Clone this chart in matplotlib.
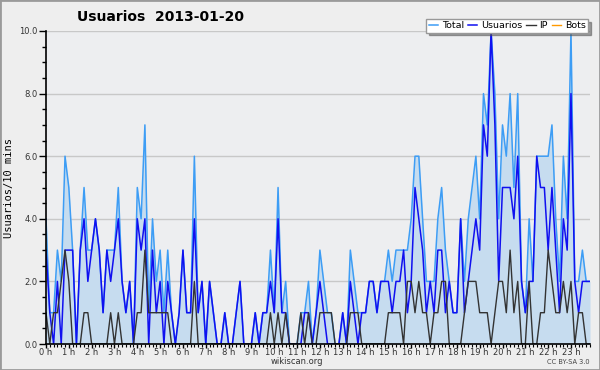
import matplotlib
matplotlib.use('Agg')
import matplotlib.pyplot as plt
from matplotlib.patches import Rectangle
from matplotlib.ticker import MultipleLocator, FormatStrFormatter
import numpy as np

# one value every 10 minutes, 0:00 .. 23:50
usuarios = [3, 1, 0, 2, 0, 3, 3, 3, 0, 3, 4, 2, 3, 4, 3, 1, 3, 2, 3, 4, 2, 1, 2, 0,
            4, 3, 4, 0, 3, 1, 2, 0, 2, 1, 0, 1, 3, 1, 1, 4, 1, 2, 0, 2, 1, 0, 0, 1,
            0, 0, 1, 2, 0, 0, 0, 1, 0, 1, 1, 2, 1, 4, 1, 1, 0, 0, 0, 0, 1, 1, 0, 1,
            2, 1, 0, 0, 0, 0, 1, 0, 2, 1, 0, 1, 1, 2, 2, 1, 2, 2, 2, 1, 2, 2, 3, 1,
            2, 5, 4, 3, 1, 2, 1, 3, 3, 1, 2, 1, 1, 4, 1, 2, 3, 4, 3, 7, 6, 10, 7, 2,
            5, 5, 5, 4, 6, 2, 1, 2, 2, 6, 5, 5, 3, 5, 3, 1, 4, 3, 8, 2, 1, 2, 2, 2]
ip = [1, 0, 1, 1, 2, 3, 2, 0, 0, 0, 1, 1, 0, 0, 0, 0, 0, 1, 0, 1, 0, 0, 0, 0,
      1, 1, 3, 1, 1, 1, 1, 1, 1, 0, 0, 0, 0, 0, 0, 2, 0, 0, 0, 0, 0, 0, 0, 0,
      0, 0, 0, 0, 0, 0, 0, 0, 0, 0, 0, 1, 0, 1, 0, 1, 0, 0, 0, 1, 0, 1, 0, 0,
      1, 1, 1, 1, 0, 0, 0, 0, 1, 1, 1, 0, 0, 0, 0, 0, 0, 0, 1, 1, 1, 1, 0, 2,
      2, 1, 2, 1, 1, 0, 1, 1, 2, 2, 0, 0, 0, 0, 1, 2, 2, 2, 1, 1, 1, 0, 1, 2,
      2, 1, 3, 1, 2, 0, 0, 2, 0, 0, 1, 1, 3, 2, 1, 1, 2, 1, 2, 0, 1, 1, 0, 0]
total = [4, 1, 1, 3, 2, 6, 5, 3, 0, 3, 5, 3, 3, 4, 3, 1, 3, 3, 3, 5, 2, 1, 2, 0,
         5, 4, 7, 1, 4, 2, 3, 1, 3, 1, 0, 1, 3, 1, 1, 6, 1, 2, 0, 2, 1, 0, 0, 1,
         0, 0, 1, 2, 0, 0, 0, 1, 0, 1, 1, 3, 1, 5, 1, 2, 0, 0, 0, 1, 1, 2, 0, 1,
         3, 2, 1, 1, 0, 0, 1, 0, 3, 2, 1, 1, 1, 2, 2, 1, 2, 2, 3, 2, 3, 3, 3, 3,
         4, 6, 6, 4, 2, 2, 2, 4, 5, 3, 2, 1, 1, 4, 2, 4, 5, 6, 4, 8, 7, 10, 8, 4,
         7, 6, 8, 5, 8, 2, 1, 4, 2, 6, 6, 6, 6, 7, 4, 2, 6, 4, 10, 2, 2, 3, 2, 2]
bots = [0] * 144
hour_labels = ['%d h' % h for h in range(24)]


def main():
    bg = '#eeeeee'
    fig = plt.figure(figsize=(6.0, 3.7), dpi=100, facecolor=bg)
    ax = fig.add_axes([46 / 600, 26 / 370, 544 / 600, 313 / 370])
    ax.set_facecolor('#edeef0')

    x = np.arange(len(total)) / 6.0
    ax.fill_between(x, total, 0, color='#c6dcef', lw=0)
    ax.plot(x, total, color='#3d9df5', lw=1.1, label='Total')
    ax.plot(x, usuarios, color='#1010f0', lw=1.1, label='Usuarios')
    ax.plot(x, ip, color='#333333', lw=1.0, label='IP')
    ax.plot(x, bots, color='#ff9900', lw=1.0, label='Bots', zorder=0)

    ax.set_xlim(0, x[-1])
    ax.set_ylim(0, 10)
    ax.yaxis.set_major_locator(MultipleLocator(2))
    ax.yaxis.set_minor_locator(MultipleLocator(0.5))
    ax.yaxis.set_major_formatter(FormatStrFormatter('%.1f'))
    ax.set_xticks(np.arange(24))
    ax.set_xticklabels(hour_labels)
    ax.xaxis.set_minor_locator(MultipleLocator(1 / 6.0))
    ax.grid(True, axis='y', color='#c8c8c8', lw=1.0)
    ax.set_axisbelow(True)

    ax.tick_params(axis='both', which='major', labelsize=6, colors='black',
                   labelcolor='#333333', direction='out', width=1.0)
    ax.tick_params(axis='y', which='major', length=5, pad=1)
    ax.tick_params(axis='y', which='minor', length=3, width=1.0)
    ax.tick_params(axis='x', which='major', length=3, pad=0)
    ax.tick_params(axis='x', which='minor', length=2.5, width=0.8)

    for s in ['top', 'right']:
        ax.spines[s].set_visible(False)
    ax.spines['left'].set_linewidth(1.2)
    ax.spines['bottom'].set_linewidth(1.2)

    ax.set_ylabel('Usuarios/10 mins', family='DejaVu Sans Mono', fontsize=7.5,
                  labelpad=4)
    fig.text(77 / 600, 1 - 17 / 370, 'Usuarios  2013-01-20', fontsize=10,
             fontweight='bold', va='center', ha='left')

    leg = ax.legend(loc='upper right', bbox_to_anchor=(1.0, 1.045), ncol=4,
                    fontsize=6.8, frameon=True, fancybox=False, shadow=True,
                    handlelength=1.0, handletextpad=0.4, columnspacing=0.4,
                    borderpad=0.25, borderaxespad=0.2)
    leg.get_frame().set_edgecolor('#999999')
    leg.get_frame().set_facecolor('white')
    leg.get_frame().set_linewidth(1.0)

    fig.text(297 / 600, 1 - 362 / 370, 'wikiscan.org', fontsize=6,
             color='#333333', ha='center', va='center')
    fig.text(590 / 600, 1 - 362 / 370, 'CC BY-SA 3.0', fontsize=4.8,
             color='#444444', ha='right', va='center')

    fig.add_artist(Rectangle((0, 0), 1, 1, transform=fig.transFigure,
                             fill=False, edgecolor='#9a9a9a', lw=2))

    fig.savefig('out.png', dpi=100, facecolor=bg)


if __name__ == '__main__':
    main()
